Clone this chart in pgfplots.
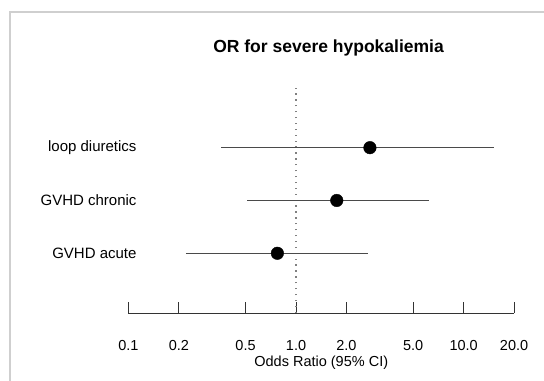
\documentclass[border=0pt]{standalone}
\usepackage{fontspec}
\setmainfont{Liberation Sans}
\usepackage{pgfplots}
\pgfplotsset{compat=1.18}
\definecolor{cigray}{HTML}{4A4A4A}
\definecolor{framegray}{HTML}{CFCFCF}
\begin{document}
\begin{tikzpicture}
\fontsize{14.5bp}{17bp}\selectfont
\begin{axis}[
  at={(128.4bp,68bp)}, anchor=south west,
  scale only axis, width=385.7bp, height=225bp,
  xmode=log, xmin=0.1, xmax=20,
  ymin=-0.131, ymax=4.13,
  axis x line*=bottom, axis y line*=left,
  y axis line style={draw=none},
  x axis line style={-, line width=0.8bp, black!80},
  xtick={0.1,0.2,0.5,1,2,5,10,20},
  xticklabels={0.1,0.2,0.5,1.0,2.0,5.0,10.0,20.0},
  xminorticks=false, minor xtick={},
  tick align=inside,
  major tick length=11bp,
  xtick style={line width=0.8bp, black!80},
  xticklabel style={anchor=base, yshift=-37bp, font=\fontsize{14.5bp}{17bp}\selectfont},
  ytick={1,2,3},
  yticklabels={GVHD acute,GVHD chronic,loop diuretics},
  ytick style={draw=none},
  yticklabel style={anchor=east, xshift=8.3bp, inner sep=0pt, font=\fontsize{15bp}{18bp}\selectfont},
  xlabel={Odds Ratio (95\% CI)},
  xlabel style={at={(axis description cs:0.5,0)}, anchor=base, yshift=-53bp, font=\fontsize{14.5bp}{17bp}\selectfont},
  title={OR for severe hypokaliemia},
  title style={at={(axis description cs:0.519,1.129)}, anchor=base, font=\fontsize{17.5bp}{20bp}\selectfont\bfseries},
  clip=false,
]
\addplot[gray, line width=1.3bp, dash pattern=on 1.3bp off 4.6bp] coordinates {(1,-0.131) (1,4.13)};
\addplot[cigray, line width=1.1bp] coordinates {(0.359,3) (15.2,3)};
\addplot[cigray, line width=1.1bp] coordinates {(0.513,2) (6.22,2)};
\addplot[cigray, line width=1.1bp] coordinates {(0.22,1) (2.69,1)};
\addplot[only marks, mark=*, mark size=6.3bp, black] coordinates {(2.76,3) (1.75,2) (0.774,1)};
\end{axis}
\draw[framegray, line width=1.2bp] (10bp,0bp) -- (10bp,369bp) -- (544bp,369bp);
\pgfresetboundingbox
\useasboundingbox (0,0) rectangle (544bp,381bp);
\end{tikzpicture}
\end{document}
